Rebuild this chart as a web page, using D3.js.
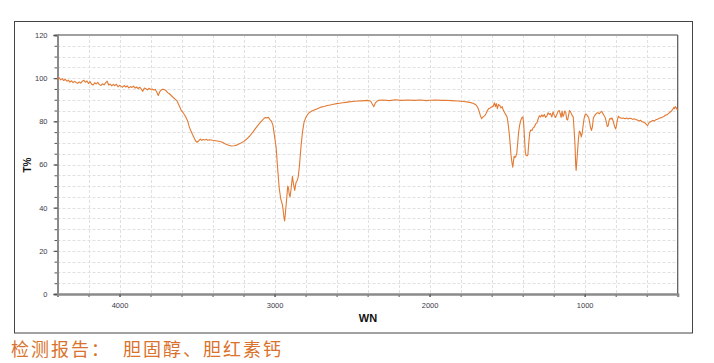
<!DOCTYPE html>
<html><head><meta charset="utf-8">
<script src="https://cdn.jsdelivr.net/npm/d3@7/dist/d3.min.js"></script>
<style>
html,body{margin:0;padding:0;background:#fff;}
svg{display:block;}
</style></head>
<body><svg id="c" width="714" height="363"></svg>
<script>
const title = "检测报告：  胆固醇、胆红素钙";
const xLabel = "WN";
const yLabel = "T%";
const xTicks = [4000, 3000, 2000, 1000];
const yTicks = [0, 20, 40, 60, 80, 100, 120];
const xDomain = [4400, 400];
const yDomain = [0, 120];
const wn = [4400,4390,4380,4370,4360,4350,4340,4330,4320,4310,4300,4290,4280,4270,4260,4250,4240,4230,4220,4210,4200,4190,4180,4170,4160,4150,4140,4130,4120,4110,4100,4090,4080,4070,4060,4050,4040,4030,4020,4010,4000,3990,3980,3970,3960,3950,3940,3930,3920,3910,3900,3890,3880,3870,3860,3850,3840,3830,3820,3810,3800,3790,3780,3770,3760,3750,3740,3730,3720,3710,3700,3690,3680,3670,3660,3650,3640,3630,3620,3610,3600,3590,3580,3570,3560,3550,3540,3530,3520,3510,3500,3490,3480,3470,3460,3450,3440,3430,3420,3400,3380,3360,3340,3320,3300,3280,3260,3240,3220,3200,3180,3160,3140,3120,3100,3080,3070,3060,3050,3040,3030,3020,3010,3000,2990,2980,2970,2960,2950,2945,2940,2935,2930,2922,2915,2910,2905,2900,2893,2885,2878,2870,2862,2855,2848,2840,2830,2820,2810,2800,2790,2780,2760,2740,2720,2700,2680,2660,2640,2620,2600,2580,2560,2540,2520,2500,2480,2460,2440,2420,2400,2390,2380,2370,2360,2350,2340,2330,2300,2260,2220,2180,2140,2100,2060,2020,2000,1960,1920,1900,1860,1820,1780,1750,1720,1700,1690,1680,1672,1664,1656,1648,1640,1630,1620,1610,1600,1590,1582,1576,1570,1563,1556,1548,1540,1532,1525,1516,1508,1500,1492,1486,1480,1474,1468,1464,1460,1455,1449,1443,1438,1432,1426,1420,1412,1404,1398,1393,1388,1383,1378,1372,1366,1360,1354,1348,1340,1332,1324,1316,1308,1300,1292,1284,1276,1268,1260,1252,1244,1236,1228,1220,1212,1204,1196,1188,1180,1172,1164,1158,1152,1146,1140,1134,1128,1122,1116,1110,1104,1098,1092,1086,1080,1074,1068,1062,1058,1055,1051,1046,1040,1034,1028,1022,1016,1010,1004,998,992,986,980,974,968,962,956,950,944,938,930,922,914,906,898,890,884,876,868,860,854,848,842,836,830,824,818,812,806,800,794,788,782,776,770,760,750,740,730,720,710,700,690,680,670,660,650,640,630,620,610,600,594,588,580,570,560,550,540,530,520,510,500,490,480,470,460,450,440,430,425,420,415,410,404,400];
const trans = [99.6,100.3,99.2,99.8,98.9,99.5,98.6,99.1,98.2,98.8,97.9,98.5,98.0,97.6,98.3,97.7,98.6,99.0,98.1,98.7,97.5,98.4,97.2,96.8,97.9,97.3,98.1,97.0,96.6,97.4,96.9,97.8,98.6,96.8,97.3,96.4,97.1,96.5,97.2,96.0,96.7,96.2,95.8,96.6,95.9,96.4,95.5,96.1,95.7,96.3,95.4,95.9,95.2,95.8,95.0,93.9,95.4,95.1,94.6,95.3,94.8,95.0,94.5,94.8,93.6,92.0,93.8,94.6,94.9,94.7,94.2,93.3,92.9,92.2,91.5,90.8,90.2,89.6,88.0,86.4,84.8,84.0,82.9,81.6,80.0,77.4,75.6,74.0,72.5,71.0,70.3,70.9,71.8,71.2,71.6,71.3,71.7,71.2,71.5,71.2,71.0,70.8,70.4,69.6,69.0,68.6,68.7,69.1,69.8,70.6,71.8,73.2,75.0,77.0,78.8,80.4,81.2,81.8,81.6,81.9,80.8,80.1,78.0,73.0,68.0,58.0,49.0,44.0,41.5,39.0,36.0,33.8,37.5,44.0,50.0,49.0,46.0,45.0,49.0,54.5,51.0,48.0,51.5,52.5,54.0,59.0,68.0,75.0,79.5,81.5,82.8,83.8,84.8,85.4,86.0,86.6,86.9,87.3,87.6,87.9,88.2,88.4,88.6,88.8,89.0,89.2,89.3,89.4,89.5,89.6,89.7,89.5,89.3,88.0,86.8,88.5,89.3,89.7,89.9,89.6,90.0,89.7,89.9,89.7,89.9,89.6,89.8,89.9,89.7,89.8,89.6,89.4,89.2,88.9,88.4,87.6,86.5,84.5,82.5,81.2,82.0,82.4,83.0,84.6,85.8,86.2,86.7,87.0,88.6,86.8,88.2,85.9,87.8,87.4,86.2,86.8,85.2,84.0,83.0,82.0,78.0,74.0,69.0,63.5,60.5,58.8,61.0,63.8,63.2,64.0,65.0,70.0,75.0,78.0,80.5,81.8,82.0,78.5,72.0,66.0,64.2,64.0,64.6,70.5,74.8,76.0,75.8,77.0,77.5,78.8,79.3,81.2,82.6,82.0,83.0,82.2,83.2,81.8,82.4,84.0,83.2,83.6,82.0,84.4,82.8,81.8,83.0,84.6,85.0,83.6,81.8,84.8,82.2,83.2,84.8,84.2,81.0,80.6,82.8,85.0,84.6,83.5,82.6,82.2,76.0,68.5,60.0,57.2,61.0,66.0,72.0,75.5,74.8,72.8,74.5,78.0,81.2,83.0,83.4,83.0,82.4,81.8,79.5,77.0,75.8,77.5,81.5,82.4,83.2,83.8,84.0,83.5,84.2,84.6,83.8,82.8,81.8,79.5,77.6,78.0,80.5,81.4,81.0,81.6,80.5,79.0,77.4,76.5,78.5,81.0,82.4,81.8,81.6,81.4,81.5,81.2,81.5,81.1,81.4,81.3,80.9,81.2,80.8,80.6,80.2,80.5,79.8,79.6,79.2,78.4,78.0,79.0,79.6,80.0,80.4,80.2,80.8,81.0,81.4,81.6,81.9,82.2,82.8,83.0,83.6,84.2,84.8,85.8,86.5,85.9,86.8,86.4,85.5,85.3];

const svg = d3.select("#c");
const L = 57.5, R = 677.7, T = 35, B = 294;
const x = d3.scaleLinear().domain(xDomain).range([L, R]);
const y = d3.scaleLinear().domain(yDomain).range([B, T]);

// outer frame
svg.append("rect").attr("x", 14.5).attr("y", 21.5).attr("width", 678).attr("height", 311.5)
  .attr("fill", "#fff").attr("stroke", "#444").attr("stroke-width", 1);

// gridlines
const g = svg.append("g");
g.selectAll("line.hg").data(d3.range(5, 120, 5)).join("line")
  .attr("x1", L).attr("x2", R).attr("y1", d => Math.round(y(d)) + 0.5).attr("y2", d => Math.round(y(d)) + 0.5)
  .attr("stroke", "#e0e0e0").attr("stroke-dasharray", "3,2").attr("stroke-width", 1);
g.selectAll("line.vg").data(d3.range(4200, 400, -200)).join("line")
  .attr("y1", T).attr("y2", B).attr("x1", d => Math.round(x(d)) + 0.5).attr("x2", d => Math.round(x(d)) + 0.5)
  .attr("stroke", "#e0e0e0").attr("stroke-dasharray", "3,2").attr("stroke-width", 1);

// plot border top / right
svg.append("line").attr("x1", L).attr("x2", R).attr("y1", T).attr("y2", T).attr("stroke", "#a0a0a0").attr("stroke-width", 2);
svg.append("line").attr("x1", R).attr("x2", R).attr("y1", T).attr("y2", B).attr("stroke", "#555").attr("stroke-width", 1.2);

// axes
const yAxis = d3.axisLeft(y).tickValues(yTicks).tickSize(4).tickPadding(6).tickFormat(d3.format("d"));
const yMinor = d3.axisLeft(y).tickValues(d3.range(0, 121, 5)).tickSize(3).tickFormat("");
const xAxis = d3.axisBottom(x).tickValues(xTicks).tickSize(3).tickPadding(6).tickFormat(d3.format("d"));
const xMinor = d3.axisBottom(x).tickValues(d3.range(4200, 400, -200)).tickSize(3).tickFormat("");

function styleAxis(sel) {
  sel.select(".domain").attr("stroke", "#8a8a8a").attr("stroke-width", 2);
  sel.selectAll(".tick line").attr("stroke", "#555");
  sel.selectAll("text").attr("fill", "#3a3a4a").style("font-family", "Arial, 'Liberation Sans', sans-serif").style("font-size", "7.5px");
}
svg.append("g").attr("transform", `translate(${L},0)`).call(yMinor).call(styleAxis);
svg.append("g").attr("transform", `translate(${L},0)`).call(yAxis).call(styleAxis);
svg.append("g").attr("transform", `translate(0,${B})`).call(xMinor).call(styleAxis);
svg.append("g").attr("transform", `translate(0,${B})`).call(xAxis).call(styleAxis);

// spectrum line
const data = wn.map((w, i) => [w, trans[i]]);
svg.append("path").datum(data)
  .attr("fill", "none").attr("stroke", "#e37a33").attr("stroke-width", 1.1).attr("stroke-linejoin", "round")
  .attr("d", d3.line().x(d => x(d[0])).y(d => y(d[1])));

// axis titles
svg.append("text").attr("transform", "translate(31,165) rotate(-90)").attr("text-anchor", "middle")
  .style("font-family", "Arial, 'Liberation Sans', sans-serif").style("font-weight", "bold").style("font-size", "10px")
  .attr("fill", "#111").text(yLabel);
svg.append("text").attr("x", 368).attr("y", 322).attr("text-anchor", "middle")
  .style("font-family", "Arial, 'Liberation Sans', sans-serif").style("font-weight", "bold").style("font-size", "11px")
  .attr("fill", "#111").text(xLabel);

// bottom title
svg.append("text").attr("x", 11).attr("y", 356).attr("xml:space", "preserve")
  .style("font-family", "'Noto Sans CJK SC', sans-serif").style("font-size", "18px")
  .style("white-space", "pre").style("letter-spacing", "2px")
  .attr("fill", "#d9722c").text(title);
</script></body></html>
